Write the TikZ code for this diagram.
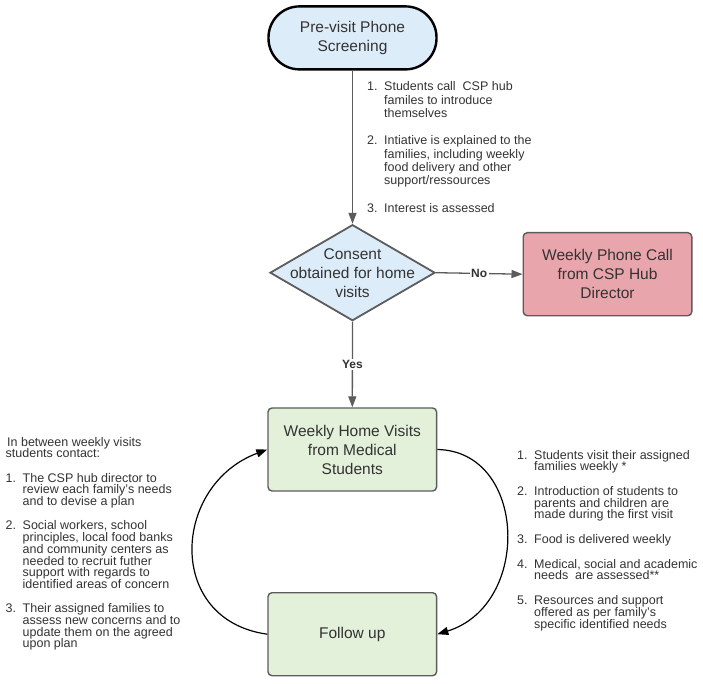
\documentclass[tikz,border=0pt]{standalone}
\usepackage{fontspec}
\setmainfont{Liberation Sans}
\usepackage{xcolor}
\usetikzlibrary{arrows.meta, calc, positioning, shapes.geometric}
\definecolor{boxblue}{HTML}{DDECF9}
\definecolor{boxgreen}{HTML}{E3F0DA}
\definecolor{boxred}{HTML}{E8A5AB}
\definecolor{edgegray}{HTML}{5C5C5C}
\definecolor{textgray}{HTML}{333333}
\newcommand{\stepline}[2]{\hbox{\makebox[17pt][l]{#1}#2}}
\lineskiplimit=-\maxdimen

\begin{document}
\begin{tikzpicture}[x=1pt, y=-1pt,
  boxtext/.style={font=\fontsize{15.5}{19}\selectfont, text=textgray, align=center},
  stepbox/.style={boxtext, draw=edgegray, line width=1.4pt, rounded corners=4pt, minimum width=168.6pt, minimum height=83pt, inner sep=0pt},
  listtext/.style={font=\fontsize{12.5}{13}\selectfont, text=textgray, inner sep=0pt, anchor=base west},
  flow/.style={draw=edgegray, line width=1.3pt, -{Triangle[length=11pt, width=8pt]}},
  loopback/.style={draw=black, line width=1.2pt, -{Triangle[length=11pt, width=8pt]}},
  answer/.style={font=\fontsize{12}{14}\selectfont\bfseries, text=textgray, fill=white, inner sep=1.5pt}]
  \useasboundingbox (0,0) rectangle (703,684);
  \node[boxtext, draw=black, line width=2.4pt, fill=boxblue, rounded corners=31pt, minimum width=168pt, minimum height=63pt, inner sep=0pt] (screen) at (352.5,37.9) {Pre-visit Phone\\Screening};
  \node[diamond, draw=edgegray, line width=1.8pt, fill=boxblue, minimum width=165pt, minimum height=96pt, inner sep=0pt] (consent) at (352.5,272.7) {};
  \node[boxtext] (consenttext) at (consent.center) {Consent\\obtained for home\\visits};
  \node[stepbox, fill=boxred] (phonecall) at (607.5,274.2) {Weekly Phone Call\\from CSP Hub\\Director};
  \node[stepbox, fill=boxgreen] (visits) at (352.3,449.5) {Weekly Home Visits\\from Medical\\Students};
  \node[stepbox, fill=boxgreen] (followup) at (352.3,634.2) {Follow up};
  \draw[flow] (screen.south) -- (consent.north);
  \draw[flow] (consent.east) -- node[answer] {No} (phonecall.west);
  \draw[flow] (consent.south) -- node[answer] {Yes} (visits.north);
  \draw[loopback] (followup.west) .. controls (165,620) and (172,485) .. (visits.west);
  \draw[loopback] (visits.east) .. controls (527,451) and (532,605) .. (followup.east);
  \node[listtext] (screensteps) at (367,91) {\vtop{\baselineskip=13.3pt
    \stepline{1.}{Students call~ CSP hub}
    \stepline{}{familes to introduce}
    \stepline{}{themselves}\vskip14pt
    \stepline{2.}{Intiative is explained to the}
    \stepline{}{families, including weekly}
    \stepline{}{food delivery and other}
    \stepline{}{support/ressources}\vskip14pt
    \stepline{3.}{Interest is assessed}}};
  \node[listtext] (contacts) at (5.5,446) {\vtop{\baselineskip=11.7pt
    \hbox{\kern1.5pt In between weekly visits}
    \hbox{students contact:}\vskip12.7pt
    \stepline{1.}{The CSP hub director to}
    \stepline{}{review each family's needs}
    \stepline{}{and to devise a plan}\vskip12.7pt
    \stepline{2.}{Social workers, school}
    \stepline{}{principles, local food banks}
    \stepline{}{and community centers as}
    \stepline{}{needed to recruit futher}
    \stepline{}{support with regards to}
    \stepline{}{identified areas of concern}\vskip12.7pt
    \stepline{3.}{Their assigned families to}
    \stepline{}{assess new concerns and to}
    \stepline{}{update them on the agreed}
    \stepline{}{upon plan}}};
  \node[listtext] (visitsteps) at (517,459) {\vtop{\baselineskip=11.7pt
    \stepline{1.}{Students visit their assigned}
    \stepline{}{families weekly *}\vskip13pt
    \stepline{2.}{Introduction of students to}
    \stepline{}{parents and children are}
    \stepline{}{made during the first visit}\vskip13pt
    \stepline{3.}{Food is delivered weekly}\vskip13pt
    \stepline{4.}{Medical, social and academic}
    \stepline{}{needs~ are assessed**}\vskip13pt
    \stepline{5.}{Resources and support}
    \stepline{}{offered as per family's}
    \stepline{}{specific identified needs}}};
\end{tikzpicture}
\end{document}
